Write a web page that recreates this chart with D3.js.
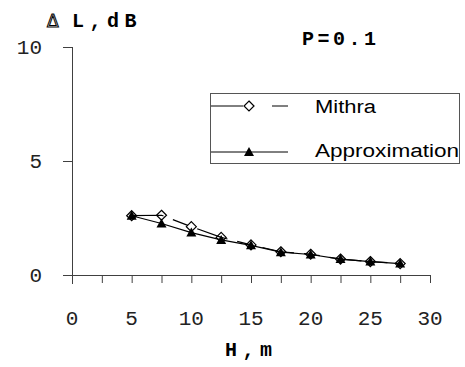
<!DOCTYPE html>
<html>
<head>
<meta charset="utf-8">
<script src="https://d3js.org/d3.v7.min.js"></script>
<style>
  body { margin: 0; background: white; }
  svg { display: block; }
</style>
</head>
<body>
<div id="chart"></div>
<script>
  // data
  var H = [5, 7.5, 10, 12.5, 15, 17.5, 20, 22.5, 25, 27.5];
  var mithra = [2.6, 2.62, 2.12, 1.65, 1.32, 1.02, 0.91, 0.7, 0.59, 0.5];
  var approx = [2.6, 2.26, 1.86, 1.54, 1.3, 1.0, 0.9, 0.7, 0.59, 0.5];
  var xTicks = [0, 2.5, 5, 7.5, 10, 12.5, 15, 17.5, 20, 22.5, 25, 27.5, 30];
  var xLabels = [0, 5, 10, 15, 20, 25, 30];
  var yTicks = [0, 5, 10];

  var width = 465, height = 367;

  var x = d3.scaleLinear().domain([0, 30]).range([72, 430]);
  var y = d3.scaleLinear().domain([0, 10]).range([275, 47]);

  var svg = d3.select('#chart')
    .append("svg")
    .attr("width", width)
    .attr("height", height);

  var axisColor = "#404040";

  // x axis
  var xAxis = svg.append("g")
    .attr("transform", "translate(0," + y(0) + ")")
    .call(d3.axisBottom(x).tickValues(xTicks).tickSize(8).tickFormat(""));
  xAxis.select(".domain").attr("stroke", axisColor).attr("d", "M" + x(0) + ",0.5H" + x(30));
  xAxis.selectAll(".tick line").attr("stroke", axisColor);

  svg.append("g").selectAll("text")
    .data(xLabels)
    .join("text")
    .attr("x", d => x(d))
    .attr("y", 325)
    .attr("text-anchor", "middle")
    .attr("font-family", "Liberation Mono, Courier New, monospace")
    .attr("font-size", 21)
    .attr("fill", "#222")
    .text(d => d);

  // y axis
  var yAxis = svg.append("g")
    .attr("transform", "translate(" + x(0) + ",0)")
    .call(d3.axisLeft(y).tickValues(yTicks).tickSize(9).tickFormat(""));
  yAxis.select(".domain").attr("stroke", axisColor).attr("d", "M0.5," + y(10) + "V" + (y(0) + 9));
  yAxis.selectAll(".tick line").attr("stroke", axisColor);

  svg.append("g").selectAll("text")
    .data(yTicks)
    .join("text")
    .attr("x", 42)
    .attr("y", d => y(d) + 7)
    .attr("text-anchor", "end")
    .attr("font-family", "Liberation Mono, Courier New, monospace")
    .attr("font-size", 21)
    .attr("fill", "#222")
    .text(d => d);

  // titles
  svg.append("text")
    .attr("x", 47).attr("y", 27)
    .attr("font-family", "DejaVu Sans, sans-serif")
    .attr("font-size", 17)
    .attr("fill", "none").attr("stroke", "black").attr("stroke-width", 1)
    .text("\u0394");
  svg.append("text")
    .attr("x", 72).attr("y", 27)
    .attr("font-family", "Liberation Mono, Courier New, monospace")
    .attr("font-weight", "bold")
    .attr("font-size", 20)
    .attr("letter-spacing", 5.5)
    .text("L,dB");
  svg.append("text")
    .attr("x", 302).attr("y", 45)
    .attr("font-family", "Liberation Mono, Courier New, monospace")
    .attr("font-weight", "bold")
    .attr("font-size", 20)
    .attr("letter-spacing", 3.5)
    .text("P=0.1");
  svg.append("text")
    .attr("x", 225).attr("y", 356)
    .attr("font-family", "Liberation Mono, Courier New, monospace")
    .attr("font-weight", "bold")
    .attr("font-size", 20)
    .attr("letter-spacing", 5.5)
    .text("H,m");

  var line = d3.line().x(d => x(d[0])).y(d => y(d[1]));
  var approxPts = H.map((h, i) => [h, approx[i]]);
  var mithraPts = H.map((h, i) => [h, mithra[i]]);

  var dash = "32,10,16,10";

  svg.append("path")
    .attr("d", line(approxPts))
    .attr("fill", "none").attr("stroke", "black").attr("stroke-width", 1.2);
  svg.append("path")
    .attr("d", line(mithraPts))
    .attr("fill", "none").attr("stroke", "black").attr("stroke-width", 1.2)
    .attr("stroke-dasharray", dash);

  var diamond = "M0,-5L5,0L0,5L-5,0Z";
  var triangle = "M0,-5L5,4L-5,4Z";

  svg.append("g").selectAll("path")
    .data(mithraPts)
    .join("path")
    .attr("transform", d => "translate(" + x(d[0]) + "," + y(d[1]) + ")")
    .attr("d", diamond)
    .attr("fill", "none").attr("stroke", "black").attr("stroke-width", 1.2);
  svg.append("g").selectAll("path")
    .data(approxPts)
    .join("path")
    .attr("transform", d => "translate(" + x(d[0]) + "," + y(d[1]) + ")")
    .attr("d", triangle)
    .attr("fill", "black");

  // legend
  var lg = svg.append("g");
  lg.append("rect")
    .attr("x", 210.5).attr("y", 93.5)
    .attr("width", 249).attr("height", 70)
    .attr("fill", "white").attr("stroke", "#555");
  lg.append("path")
    .attr("d", "M211,106H243 M272,106H288")
    .attr("stroke", "black");
  lg.append("path")
    .attr("transform", "translate(249,106)")
    .attr("d", diamond)
    .attr("fill", "white").attr("stroke", "black").attr("stroke-width", 1.2);
  lg.append("path")
    .attr("d", "M211,152H288")
    .attr("stroke", "black");
  lg.append("path")
    .attr("transform", "translate(249,152)")
    .attr("d", triangle)
    .attr("fill", "black");
  lg.append("text")
    .attr("x", 315).attr("y", 113)
    .attr("font-family", "Liberation Sans, Arial, sans-serif")
    .attr("font-size", 18)
    .attr("textLength", 61).attr("lengthAdjust", "spacingAndGlyphs")
    .text("Mithra");
  lg.append("text")
    .attr("x", 315).attr("y", 157)
    .attr("font-family", "Liberation Sans, Arial, sans-serif")
    .attr("font-size", 18)
    .attr("textLength", 144).attr("lengthAdjust", "spacingAndGlyphs")
    .text("Approximation");
</script>
</body>
</html>
